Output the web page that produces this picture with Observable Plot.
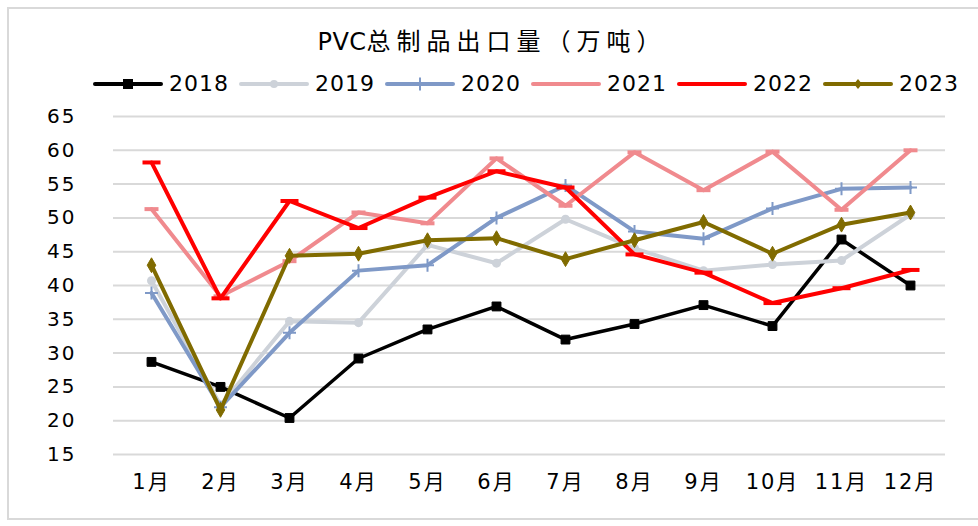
<!DOCTYPE html>
<html>
<head>
<meta charset="utf-8">
<script src="https://cdn.jsdelivr.net/npm/d3@7"></script>
<script src="https://cdn.jsdelivr.net/npm/@observablehq/plot@0.6"></script>
<style>
  html, body { margin: 0; padding: 0; background: #fff; }
  body { width: 978px; height: 526px; overflow: hidden; position: relative; font-family: "DejaVu Sans", "Noto Sans CJK SC", sans-serif; }
  #frame { position: absolute; left: 7px; top: 7px; width: 1000px; height: 513px; border: 2px solid #d9d9d9; box-sizing: border-box; }
  #title { position: absolute; left: 0; top: 30px; width: 978px; text-align: center; font-size: 24px; line-height: 24px; letter-spacing: 6px; padding-left: 6px; box-sizing: border-box; color: #000; }
  #title .latin { letter-spacing: 0.5px; }
  #legend { position: absolute; left: 93px; top: 72px; height: 24px; display: flex; align-items: center; }
  .item { display: flex; align-items: center; }
  .item svg { width: 70px; height: 20px; margin-right: 6px; }
  .item span { display: inline-block; width: 62px; margin-right: 8px; font-size: 22px; line-height: 24px; letter-spacing: 1px; color: #000; }
  #chart { position: absolute; left: 0; top: 100px; }
  g[aria-label="y-axis tick label"] text { letter-spacing: 2px; }
  g[aria-label="x-axis tick label"] text { letter-spacing: 2px; }
</style>
</head>
<body>
<div id="frame"></div>
<div id="title"></div>
<div id="legend"></div>
<div id="chart"></div>
<script>
const titleLatin = "PVC";
const titleCJK = "总制品出口量（万吨）";
const months = ["1月","2月","3月","4月","5月","6月","7月","8月","9月","10月","11月","12月"];
const yTicks = [15,20,25,30,35,40,45,50,55,60,65];
const years = ["2018","2019","2020","2021","2022","2023"];
const v2018 = [28.7,25.0,20.4,29.2,33.5,36.9,32.0,34.3,37.1,34.0,46.8,40.0];
const v2019 = [40.7,22.3,34.7,34.5,46.0,43.3,49.8,45.5,42.2,43.1,43.7,50.5];
const v2020 = [38.9,22.0,33.0,42.2,43.0,50.0,54.8,48.0,46.9,51.4,54.3,54.5];
const v2021 = [51.3,38.4,43.6,50.8,49.2,58.8,51.8,59.7,54.1,59.8,51.2,60.0];
const v2022 = [58.2,38.1,52.5,48.5,53.0,56.9,54.5,44.6,41.9,37.4,39.6,42.3];
const v2023 = [43.0,21.6,44.4,44.7,46.7,47.0,43.9,46.7,49.4,44.7,49.0,50.8];
const colors = ["#000000","#cdd2d9","#7f99c7","#f08a8e","#ff0000","#806b00"];
const markers = ["square","circle","plus","dash","dashWide","diamond"];

const seriesValues = [v2018, v2019, v2020, v2021, v2022, v2023];

// custom stroked symbols
const plusSym = { draw(ctx, size) { const r = Math.sqrt(size / Math.PI); ctx.moveTo(-r, 0); ctx.lineTo(r, 0); ctx.moveTo(0, -r); ctx.lineTo(0, r); } };
const dashSym = { draw(ctx, size) { const r = Math.sqrt(size / Math.PI); ctx.moveTo(-r, 0); ctx.lineTo(r, 0); } };

function markerMarks(kind, data, color) {
  const base = { x: "month", y: "value" };
  switch (kind) {
    case "square": return Plot.dot(data, { ...base, symbol: "square", r: 5, fill: color, stroke: color, strokeWidth: 1 });
    case "circle": return Plot.dot(data, { ...base, symbol: "circle", r: 4.5, fill: color, stroke: "none" });
    case "plus": return Plot.dot(data, { ...base, symbol: plusSym, r: 6.5, fill: "none", stroke: color, strokeWidth: 2 });
    case "dash": return Plot.dot(data, { ...base, symbol: dashSym, r: 7, fill: "none", stroke: color, strokeWidth: 4 });
    case "dashWide": return Plot.dot(data, { ...base, symbol: dashSym, r: 9, fill: "none", stroke: color, strokeWidth: 4 });
    case "diamond": return Plot.dot(data, { ...base, symbol: "diamond", r: 4.5, fill: color, stroke: color, strokeWidth: 1 });
  }
}

const seriesMarks = years.flatMap((yr, i) => {
  const data = seriesValues[i].map((v, j) => ({ year: yr, month: months[j], value: v }));
  return [
    Plot.line(data, { x: "month", y: "value", stroke: colors[i], strokeWidth: i === 0 ? 3.5 : 4, strokeLinejoin: "round", strokeLinecap: "round" }),
    markerMarks(markers[i], data, colors[i])
  ];
});

const chart = Plot.plot({
  width: 978,
  height: 426,
  marginTop: 16,
  marginBottom: 72,
  marginLeft: 113,
  marginRight: 33,
  style: { fontFamily: '"DejaVu Sans", "Noto Sans CJK SC", sans-serif', color: "#000", background: "transparent", overflow: "visible" },
  x: { type: "point", domain: months, range: [146, 915], padding: 0 },
  y: { domain: [15, 65] },
  marks: [
    Plot.gridY(yTicks, { stroke: "#d9d9d9", strokeOpacity: 1, strokeWidth: 2 }),
    Plot.axisY(yTicks, { tickSize: 0, tickPadding: 37, label: null, fontSize: 20, fill: "#000" }),
    Plot.axisX({ tickSize: 0, tickPadding: 20, label: null, fontSize: 21, fill: "#000" }),
    ...seriesMarks
  ]
});
document.getElementById("chart").appendChild(chart);

// title
const titleEl = document.getElementById("title");
const latin = document.createElement("span");
latin.className = "latin";
latin.textContent = titleLatin;
titleEl.appendChild(latin);
titleEl.appendChild(document.createTextNode(titleCJK));

// legend
const legendMarker = {
  square: c => `<rect x="30" y="5" width="10" height="10" fill="${c}"/>`,
  circle: c => `<circle cx="35" cy="10" r="4" fill="${c}"/>`,
  plus: c => `<path d="M35 3.5V16.5" stroke="${c}" stroke-width="2"/>`,
  dash: c => ``,
  dashWide: c => ``,
  diamond: c => `<path d="M35 5L39 10L35 15L31 10Z" fill="${c}"/>`
};
const legend = document.getElementById("legend");
years.forEach((yr, i) => {
  const item = document.createElement("div");
  item.className = "item";
  item.innerHTML = `<svg viewBox="0 0 70 20"><line x1="2" x2="68" y1="10" y2="10" stroke="${colors[i]}" stroke-width="4" stroke-linecap="round"/>${legendMarker[markers[i]](colors[i])}</svg><span>${yr}</span>`;
  legend.appendChild(item);
});
</script>
</body>
</html>
